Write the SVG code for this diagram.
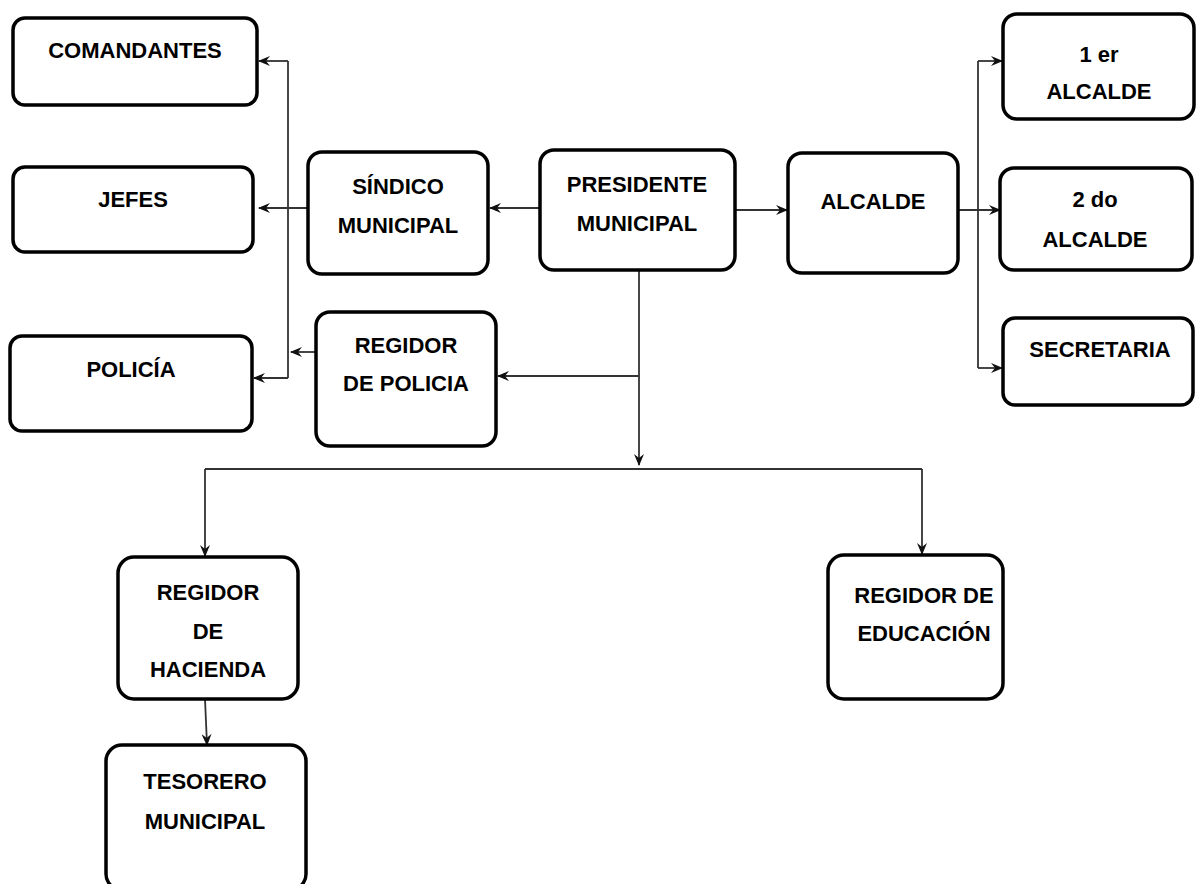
<svg xmlns="http://www.w3.org/2000/svg" width="1196" height="884" viewBox="0 0 1196 884">
<defs>
<style>
.box{fill:#fff;stroke:#000;stroke-width:3.5}
.t{font-family:"Liberation Sans",Arial,sans-serif;font-weight:bold;font-size:22px;fill:#000;text-anchor:middle}
.c{fill:none;stroke:#333;stroke-width:1.8}
</style>
<marker id="a" viewBox="0 0 12 10" refX="11" refY="5" markerWidth="12" markerHeight="10" markerUnits="userSpaceOnUse" orient="auto">
<path d="M0,0 L12,5 L0,10 L4,5 Z" fill="#111"/>
</marker>
</defs>
<rect width="1196" height="884" fill="#fff"/>
<g id="connectors">
<path class="c" d="M288,61 V378"/>
<path class="c" d="M288,61 H259" marker-end="url(#a)"/>
<path class="c" d="M288,378 H254" marker-end="url(#a)"/>
<path class="c" d="M308,208 H259" marker-end="url(#a)"/>
<path class="c" d="M540,208 H490" marker-end="url(#a)"/>
<path class="c" d="M316,352 H291" marker-end="url(#a)"/>
<path class="c" d="M639,270 V465" marker-end="url(#a)"/>
<path class="c" d="M639,376 H498" marker-end="url(#a)"/>
<path class="c" d="M205,469 H922"/>
<path class="c" d="M205,469 V556" marker-end="url(#a)"/>
<path class="c" d="M922,469 V554" marker-end="url(#a)"/>
<path class="c" d="M735,210 H787" marker-end="url(#a)"/>
<path class="c" d="M958,210 H1000" marker-end="url(#a)"/>
<path class="c" d="M978,61 V368"/>
<path class="c" d="M978,61 H1002" marker-end="url(#a)"/>
<path class="c" d="M978,368 H1002" marker-end="url(#a)"/>
<path class="c" d="M205,699 L207,745" marker-end="url(#a)"/>
</g>
<g id="comandantes"><rect class="box" x="13" y="18" width="244" height="87" rx="12"/><text class="t" x="135" y="58">COMANDANTES</text></g>
<g id="jefes"><rect class="box" x="13" y="167" width="240" height="85" rx="12"/><text class="t" x="133" y="207">JEFES</text></g>
<g id="policia"><rect class="box" x="10" y="336" width="242" height="95" rx="12"/><text class="t" x="131" y="377">POLICÍA</text></g>
<g id="sindico"><rect class="box" x="308" y="152" width="180" height="122" rx="14"/><text class="t" x="398" y="194">SÍNDICO</text><text class="t" x="398" y="233">MUNICIPAL</text></g>
<g id="presidente"><rect class="box" x="540" y="150" width="195" height="120" rx="14"/><text class="t" x="637" y="192">PRESIDENTE</text><text class="t" x="637" y="231">MUNICIPAL</text></g>
<g id="alcalde"><rect class="box" x="788" y="153" width="170" height="120" rx="14"/><text class="t" x="873" y="209">ALCALDE</text></g>
<g id="alcalde1"><rect class="box" x="1003" y="14" width="191" height="105" rx="14"/><text class="t" x="1099" y="62">1 er</text><text class="t" x="1099" y="99">ALCALDE</text></g>
<g id="alcalde2"><rect class="box" x="1000" y="168" width="192" height="102" rx="14"/><text class="t" x="1095" y="207">2 do</text><text class="t" x="1095" y="247">ALCALDE</text></g>
<g id="secretaria"><rect class="box" x="1003" y="318" width="190" height="87" rx="12"/><text class="t" x="1100" y="357">SECRETARIA</text></g>
<g id="regidor-policia"><rect class="box" x="316" y="312" width="180" height="134" rx="14"/><text class="t" x="406" y="353">REGIDOR</text><text class="t" x="406" y="391">DE POLICIA</text></g>
<g id="regidor-hacienda"><rect class="box" x="118" y="557" width="180" height="142" rx="16"/><text class="t" x="208" y="600">REGIDOR</text><text class="t" x="208" y="639">DE</text><text class="t" x="208" y="677">HACIENDA</text></g>
<g id="tesorero"><rect class="box" x="106" y="745" width="200" height="145" rx="16"/><text class="t" x="205" y="789">TESORERO</text><text class="t" x="205" y="829">MUNICIPAL</text></g>
<g id="regidor-educacion"><rect class="box" x="828" y="555" width="175" height="144" rx="16"/><text class="t" x="924" y="603">REGIDOR DE</text><text class="t" x="924" y="641">EDUCACIÓN</text></g>
</svg>
